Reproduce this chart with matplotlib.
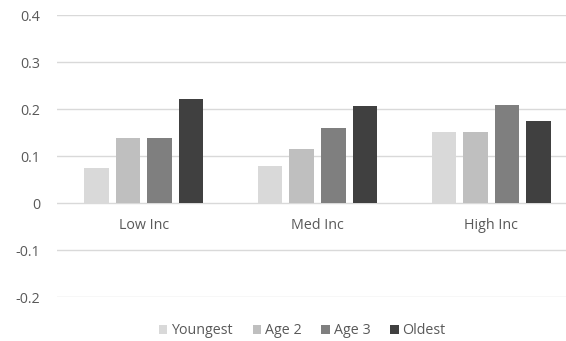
import numpy as np
import matplotlib
matplotlib.use("Agg")
import matplotlib.pyplot as plt

groups = ["Low Inc", "Med Inc", "High Inc"]
series = ["Youngest", "Age 2", "Age 3", "Oldest"]
youngest = [0.074, 0.079, 0.151]
age2 = [0.139, 0.115, 0.151]
age3 = [0.139, 0.160, 0.209]
oldest = [0.222, 0.207, 0.175]
colors = ["#d9d9d9", "#bfbfbf", "#7f7f7f", "#404040"]

plt.rcParams["font.family"] = ["Open Sans", "DejaVu Sans"]
txt = "#595959"
fs = 10.3

fig = plt.figure(figsize=(5.66, 3.41), dpi=100)
# plot area runs a little past the right edge of the figure
ax = fig.add_axes([0.1007, 0.129, 0.9205, 0.827])

x = np.arange(len(groups))
width = 0.141
pitch = 0.1816
for i, (name, vals) in enumerate(zip(series, [youngest, age2, age3, oldest])):
    ax.bar(x + (i - 1.5) * pitch, vals, width, color=colors[i], label=name, zorder=3)

ax.set_xlim(-0.5, 2.5)
ax.set_ylim(-0.2, 0.4)
ax.set_yticks(np.arange(-0.2, 0.41, 0.1))
ax.set_yticklabels(["-0.2", "-0.1", "0", "0.1", "0.2", "0.3", "0.4"])
ax.yaxis.grid(True, color="#d9d9d9", linewidth=1, zorder=0)
ax.set_xticks([])
for s in ax.spines.values():
    s.set_visible(False)
ax.tick_params(axis="y", length=0, labelsize=fs, labelcolor=txt, pad=12)

# category names sit just under the zero line
for xi, g in zip(x, groups):
    ax.text(xi, -0.047, g, ha="center", va="center", fontsize=fs, color=txt)

handles, labels = ax.get_legend_handles_labels()
fig.legend(handles, labels, loc="center", bbox_to_anchor=(0.534, 0.03), ncol=4,
           frameon=False, fontsize=fs, labelcolor=txt, handlelength=0.6,
           handleheight=0.6, handletextpad=0.25, columnspacing=1.4)

fig.savefig("out.png", dpi=100)
